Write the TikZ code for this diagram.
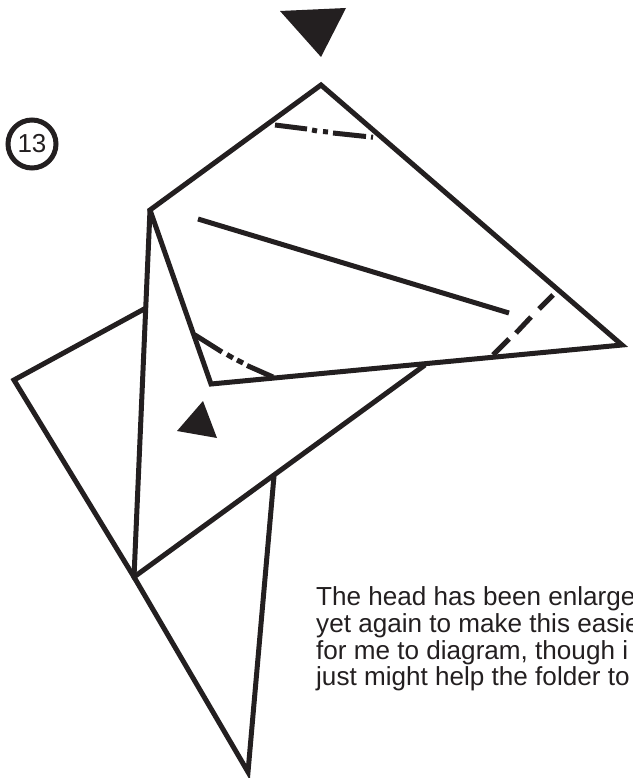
\documentclass[tikz,border=0pt]{standalone}
\usepackage{fontspec}
\setmainfont{Liberation Sans}
\definecolor{ink}{HTML}{231F20}
\tikzset{
  fold/.style={draw=ink,line width=5pt,line join=miter,miter limit=4},
  crease/.style={draw=ink,line width=5pt},
  marker/.style={fill=ink,draw=none},
  note/.style={anchor=base west,inner sep=0pt,text=ink,font=\fontsize{26.1pt}{26.6pt}\selectfont}
}
\begin{document}
\begin{tikzpicture}[x=1pt,y=-1pt]
\useasboundingbox (0,0) rectangle (632,778);
% paper edges
\draw[fold] (150,210) -- (321,85) -- (622,345) -- (211,384) -- cycle;
\draw[fold] (150,210) -- (134,577) -- (248,772) -- (274,476);
\draw[fold] (146,308) -- (14,380) -- (134,577) -- (425,365);
\draw[fold] (198,219) -- (509,313);
% dash-dot creases
\draw[crease] (275,125) -- (307,129) (312,130) -- (317,131) (323,131.5) -- (328,132) (333,133) -- (366,136.5) (371,137) -- (373,137.3);
\draw[crease] (195,335) -- (222,352) (227,354.5) -- (233,358) (237,360) -- (243,363) (247,365.5) -- (273,377);
\draw[crease] (553,295) -- (539,309) (531,317) -- (516,333) (509,339) -- (493,355);
% arrows
\path[marker] (280,11) -- (346,8) -- (321,57) -- cycle;
\path[marker] (203,401) -- (177,431) -- (217,438) -- cycle;
% step number
\node[circle,draw=ink,line width=5pt,minimum size=48pt,inner sep=0pt,text=ink,font=\fontsize{26pt}{26pt}\selectfont] (stepnum) at (32,144) {13};
% note
\node[note] (l1) at (316,605) {The head has been enlarge};
\node[note] (l2) at (316,632) {yet again to make this easie};
\node[note] (l3) at (316,659) {for me to diagram, though i};
\node[note] (l4) at (316,685) {just might help the folder to};
\end{tikzpicture}
\end{document}
